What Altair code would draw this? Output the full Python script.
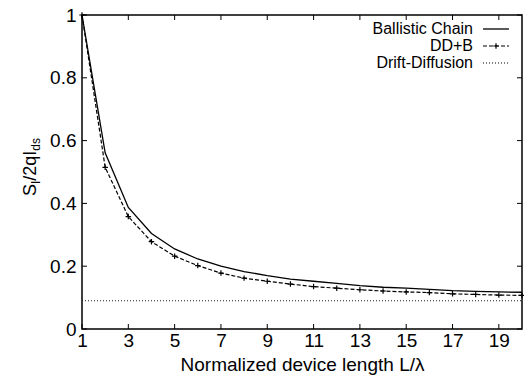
import altair as alt
import pandas as pd

# ---- data ----
L = list(range(1, 21))
ballistic = [1.0, 0.561, 0.387, 0.304, 0.255, 0.223, 0.200, 0.183, 0.170, 0.159,
             0.152, 0.145, 0.138, 0.133, 0.130, 0.126, 0.122, 0.120, 0.118, 0.117]
ddb = [1.0, 0.515, 0.358, 0.278, 0.232, 0.202, 0.178, 0.162, 0.152, 0.143,
       0.135, 0.130, 0.125, 0.121, 0.118, 0.116, 0.112, 0.110, 0.108, 0.107]
drift = [0.09, 0.09]
drift_x = [1, 20]
x_ticks = [1, 3, 5, 7, 9, 11, 13, 15, 17, 19]
y_ticks = [0, 0.2, 0.4, 0.6, 0.8, 1.0]
series = ["Ballistic Chain", "DD+B", "Drift-Diffusion"]

W, H = 440, 314
FONT = "Liberation Sans"

df_b = pd.DataFrame({"L": L, "S": ballistic})
df_d = pd.DataFrame({"L": L, "S": ddb})
df_dd = pd.DataFrame({"L": drift_x, "S": drift})
df_xt = pd.DataFrame({"L": x_ticks})
df_yt = pd.DataFrame({"S": y_ticks})

xs = alt.Scale(domain=[1, 20], nice=False, zero=False)
ys = alt.Scale(domain=[0, 1], nice=False, zero=False)

x_axis = alt.Axis(values=x_ticks, tickSize=0, ticks=False, domain=False, grid=False,
                  labelFontSize=19, labelPadding=2, labelFlush=False,
                  labelOverlap=False, labelColor="black", labelFont=FONT,
                  title="Normalized device length L/λ", titleFontSize=19,
                  titleFont=FONT, titleFontWeight="normal", titleColor="black",
                  titleBaseline="alphabetic", titleY=41)
y_axis = alt.Axis(values=y_ticks, tickSize=0, ticks=False, domain=False, grid=False,
                  labelFontSize=19, labelPadding=6, labelFlush=False,
                  labelOverlap=False, labelColor="black", labelFont=FONT,
                  format="~g", title=None)

X = alt.X("L:Q", scale=xs, axis=x_axis)
Y = alt.Y("S:Q", scale=ys, axis=y_axis)

line_b = alt.Chart(df_b).mark_line(color="black", strokeWidth=1.3).encode(x=X, y=Y)
line_d = alt.Chart(df_d).mark_line(color="black", strokeWidth=1.2,
                                   strokeDash=[4, 2]).encode(x=X, y=Y)
plus = "M-1,0L1,0M0,-1L0,1"
pts_d = alt.Chart(df_d).mark_point(shape=plus, size=30, color="black", filled=False,
                                   strokeWidth=1.2, opacity=1).encode(x=X, y=Y)
line_dd = alt.Chart(df_dd).mark_line(color="#222222", strokeWidth=1.0,
                                     strokeDash=[1, 2]).encode(x=X, y=Y)

# inward ticks (gnuplot style) on all four sides
tk = dict(color="black", strokeWidth=1)
xt_bot = alt.Chart(df_xt).mark_rule(**tk).encode(x=X, y=alt.value(H), y2=alt.value(H - 5))
xt_top = alt.Chart(df_xt).mark_rule(**tk).encode(x=X, y=alt.value(0), y2=alt.value(5))
yt_left = alt.Chart(df_yt).mark_rule(**tk).encode(y=Y, x=alt.value(0), x2=alt.value(5))
yt_right = alt.Chart(df_yt).mark_rule(**tk).encode(y=Y, x=alt.value(W), x2=alt.value(W - 5))

# legend (top right, inside the plot)
leg_rows_y = [14, 31, 48]
leg_layers = []
styles = [dict(strokeWidth=1.3), dict(strokeWidth=1.2, strokeDash=[4, 2]),
          dict(strokeWidth=1.0, strokeDash=[1, 2])]
for name, yy, st in zip(series, leg_rows_y, styles):
    leg_layers.append(alt.Chart(pd.DataFrame({"n": [name]})).mark_text(
        align="right", baseline="middle", font=FONT, fontSize=16, color="black"
    ).encode(text="n:N", x=alt.value(391), y=alt.value(yy)))
    leg_layers.append(alt.Chart(pd.DataFrame({"n": [name]})).mark_rule(
        color="black", **st).encode(x=alt.value(401), x2=alt.value(427), y=alt.value(yy)))
leg_layers.append(alt.Chart(pd.DataFrame({"n": ["DD+B"]})).mark_point(
    shape=plus, size=30, color="black", filled=False, strokeWidth=1.2, opacity=1
).encode(x=alt.value(414), y=alt.value(leg_rows_y[1])))

# y-axis title with subscripts: S_I/2qI_ds (rotated)
title_parts = [("S", 18, 0, 181), ("I", 12, 4, 169), ("/2q", 18, 0, 165.7),
               ("I", 18, 0, 140.7), ("ds", 12, 4, 135.7)]
title_layers = []
for txt, fs, dxs, yy in title_parts:
    title_layers.append(alt.Chart(pd.DataFrame({"t": [txt]})).mark_text(
        angle=270, align="left", baseline="alphabetic", font=FONT, fontSize=fs,
        color="black").encode(text="t:N", x=alt.value(-46 + dxs), y=alt.value(yy)))

chart = alt.layer(
    line_b, line_d, pts_d, line_dd, xt_bot, xt_top, yt_left, yt_right,
    *leg_layers, *title_layers
).properties(
    width=W, height=H,
    autosize=alt.AutoSizeParams(type="none"),
    padding={"left": 82, "top": 15, "right": 2, "bottom": 49},
).configure(
    font=FONT, background="white",
    view=alt.ViewConfig(stroke="black", strokeWidth=1.5),
)

chart.save("out.html", embed_options={"renderer": "svg", "actions": False})
